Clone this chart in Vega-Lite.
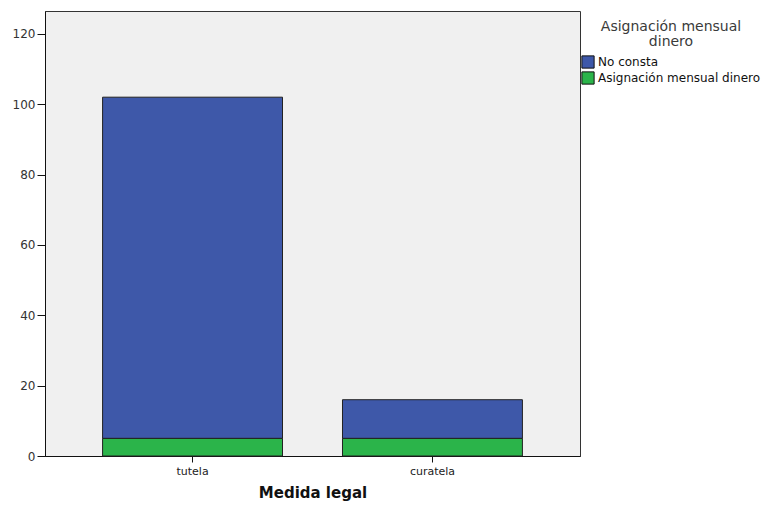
{
  "$schema": "https://vega.github.io/schema/vega-lite/v6.json",
  "autosize": {"type": "none"},
  "padding": {"left": 45, "top": 11, "right": 191, "bottom": 49},
  "width": 535,
  "height": 445,
  "background": "white",
  "config": {
    "view": {"fill": "#f0f0f0", "stroke": "#333333", "strokeWidth": 1},
    "font": "DejaVu Sans"
  },
  "data": {
    "values": [
      {"medida": "tutela", "serie": "No consta", "n": 97},
      {"medida": "tutela", "serie": "Asignación mensual dinero", "n": 5},
      {"medida": "curatela", "serie": "No consta", "n": 11},
      {"medida": "curatela", "serie": "Asignación mensual dinero", "n": 5}
    ]
  },
  "mark": {"type": "bar", "stroke": "#222222", "strokeWidth": 1},
  "encoding": {
    "x": {
      "field": "medida",
      "type": "nominal",
      "sort": ["tutela", "curatela"],
      "scale": {"paddingInner": 0.25, "paddingOuter": 0.24},
      "axis": {
        "title": "Medida legal",
        "titleFont": "DejaVu Sans",
        "titleFontSize": 15,
        "titleFontWeight": "bold",
        "titleColor": "#111111",
        "titlePadding": 9,
        "labelAngle": 0,
        "labelFont": "DejaVu Sans",
        "labelFontSize": 11,
        "labelColor": "#222222",
        "labelPadding": 3,
        "tickColor": "#111111",
        "tickSize": 6,
        "domainColor": "#111111"
      }
    },
    "y": {
      "field": "n",
      "type": "quantitative",
      "stack": "zero",
      "scale": {"domain": [0, 126.5], "nice": false},
      "axis": {
        "title": null,
        "values": [0, 20, 40, 60, 80, 100, 120],
        "grid": false,
        "labelFont": "DejaVu Sans",
        "labelFontSize": 12,
        "labelColor": "#333333",
        "labelPadding": 2,
        "tickColor": "#111111",
        "tickSize": 8,
        "domainColor": "#111111"
      }
    },
    "color": {
      "field": "serie",
      "type": "nominal",
      "scale": {
        "domain": ["No consta", "Asignación mensual dinero"],
        "range": ["#3e58a9", "#2bb44a"]
      },
      "legend": {
        "title": ["Asignación mensual", "dinero"],
        "orient": "none",
        "legendX": 536,
        "legendY": 9,
        "titleFont": "DejaVu Sans",
        "titleAnchor": "middle",
        "titleAlign": "center",
        "titleFontSize": 14,
        "titleFontWeight": "normal",
        "titleColor": "#3a3a3a",
        "titlePadding": 6,
        "titleLineHeight": 15,
        "titleLimit": 220,
        "labelFont": "DejaVu Sans",
        "labelFontSize": 12,
        "labelColor": "#111111",
        "labelOffset": 3,
        "labelLimit": 220,
        "symbolType": "square",
        "symbolSize": 150,
        "symbolStrokeColor": "#111111",
        "symbolStrokeWidth": 1,
        "symbolOpacity": 1,
        "rowPadding": -6
      }
    },
    "order": {"field": "serie", "sort": "ascending"}
  }
}
